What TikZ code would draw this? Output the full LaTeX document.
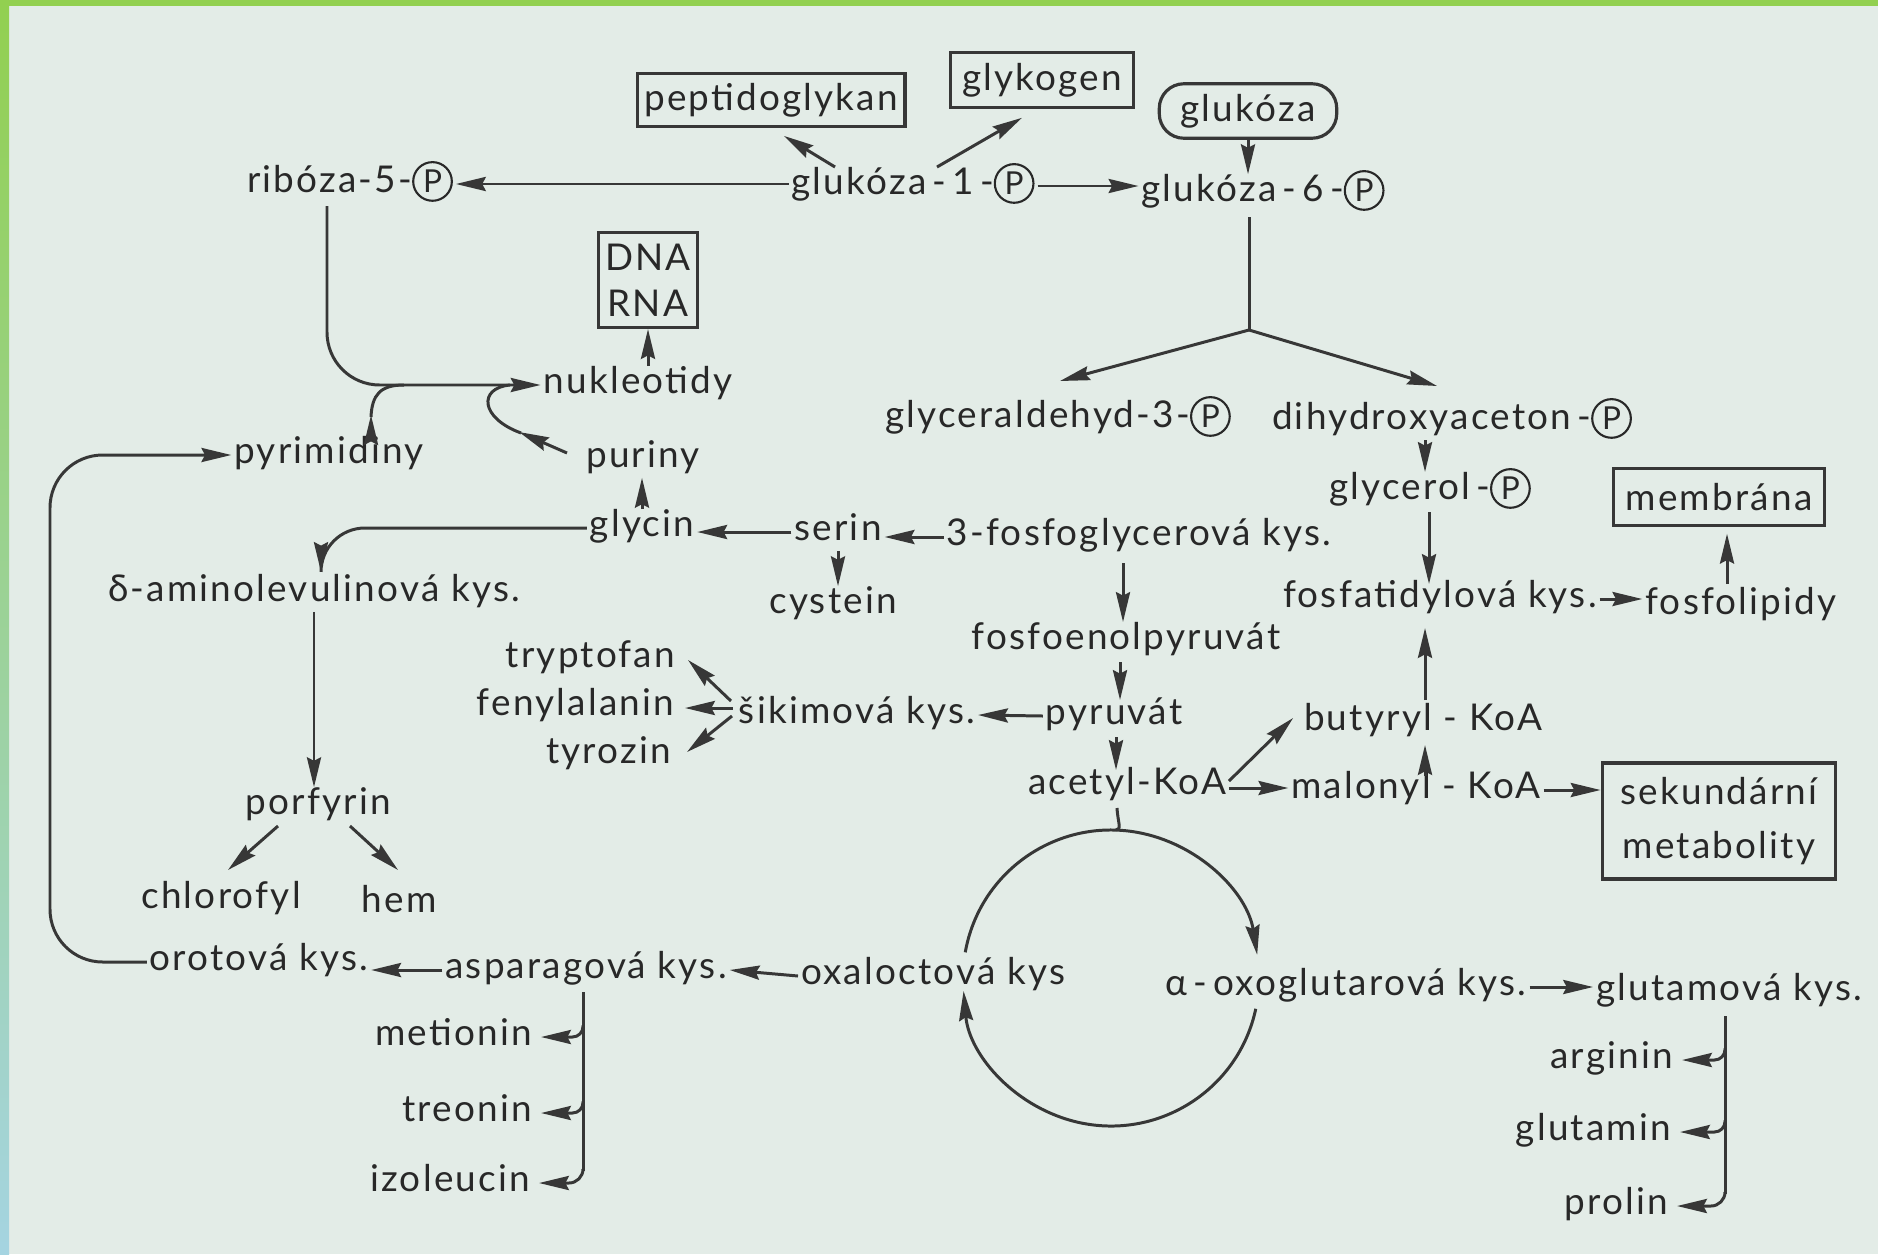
\documentclass[tikz,border=0pt]{standalone}
\usepackage{fontspec}
\setmainfont{Lato}[LetterSpace=6]
\usetikzlibrary{arrows.meta,calc}
\definecolor{bg}{RGB}{227,236,231}
\definecolor{grn}{RGB}{146,208,80}
\definecolor{blu}{RGB}{165,212,225}
\definecolor{lnc}{RGB}{55,55,55}
\definecolor{txt}{RGB}{40,40,40}
\newcommand\lbl{\fontsize{21}{26}\selectfont}
\newcommand\Pc{\tikz[baseline=(pp.base)]\node[circle, draw=txt, line width=1.2pt, inner sep=0pt, text height=, text depth=, minimum size=22pt, text=txt, font=\fontsize{18}{18}\selectfont] (pp) {P};}
\begin{document}
\begin{tikzpicture}[x=0.02cm,y=-0.02cm,
  lab/.style={font=\lbl, text=txt, inner sep=1.5pt, text height=14pt, text depth=4pt},
  boxn/.style={font=\lbl, text=txt, draw=lnc, line width=1.8pt, inner sep=4pt, align=center},
  ln/.style={draw=lnc, line width=1.7pt},
  arr/.style={ln, -{Stealth[length=17pt,width=8pt,inset=2pt]}}]
\useasboundingbox (0,0) rectangle (1878,1254);
\fill[bg] (0,0) rectangle (1878,1254);
\fill[grn] (0,0) rectangle (1878,6);
\shade[top color=grn, middle color=grn, bottom color=blu] (0,0) rectangle (9,1254);

% nodes
\node[boxn, minimum width=151pt, minimum height=30pt] (pep) at (771,100) {peptidoglykan};
\node[boxn, minimum width=104pt, minimum height=31pt] (glyk) at (1042,80) {glykogen};
\node[boxn, rounded corners=14pt, minimum width=101pt, minimum height=31pt] (glc) at (1248,111) {glukóza};
\node[lab] (rib) at (350,184) {ribóza-5-\Pc};
\node[lab] (g1) at (913,186) {glukóza\,-\,1\,-\Pc};
\node[lab] (g6) at (1263,193) {glukóza\,-\,6\,-\Pc};
\node[boxn, minimum width=56pt, minimum height=54pt] (dna) at (648,280) {DNA\\RNA};
\node[lab] (nuk) at (638,385) {nukleotidy};
\node[lab] (pyr) at (329,455) {pyrimidiny};
\node[lab] (pur) at (643,459) {puriny};
\node[lab] (gly) at (642,528) {glycin};
\node[lab] (ser) at (838,532) {serin};
\node[lab] (pga) at (1139,537) {3-fosfoglycerová kys.};
\node[lab] (cys) at (833,605) {cystein};
\node[lab] (ala) at (314,593) {δ-aminolevulinová kys.};
\node[lab] (gap) at (1058,419) {glyceraldehyd-3-\Pc};
\node[lab] (dhap) at (1452,421) {dihydroxyaceton\,-\Pc};
\node[lab] (g3p) at (1430,491) {glycerol\,-\Pc};
\node[boxn, minimum width=120pt, minimum height=32pt] (mem) at (1719,497) {membrána};
\node[lab] (pa) at (1440,599) {fosfatidylová kys.};
\node[lab] (pl) at (1741,606) {fosfolipidy};
\node[lab] (pep2) at (1126,641) {fosfoenolpyruvát};
\node[lab, anchor=east] (trp) at (678,659) {tryptofan};
\node[lab, anchor=east] (phe) at (677,707) {fenylalanin};
\node[lab, anchor=east] (tyr) at (674,755) {tyrozin};
\node[lab] (shik) at (857,715) {šikimová kys.};
\node[lab] (pyrv) at (1114,716) {pyruvát};
\node[lab] (but) at (1423,722) {butyryl - KoA};
\node[lab] (acoa) at (1127,786) {acetyl-KoA};
\node[lab] (mal) at (1416,790) {malonyl - KoA};
\node[boxn, minimum width=133pt, minimum height=66pt] (sek) at (1719,821) {sekundární\\[5pt]metabolity};
\node[lab] (por) at (318,806) {porfyrin};
\node[lab] (chl) at (221,900) {chlorofyl};
\node[lab] (hem) at (399,904) {hem};
\node[lab] (oro) at (259,962) {orotová kys.};
\node[lab] (asp) at (586,970) {asparagová kys.};
\node[lab] (oaa) at (933,976) {oxaloctová kys};
\node[lab] (akg) at (1346,987) {α\,-\,oxoglutarová kys.};
\node[lab] (glu) at (1729,992) {glutamová kys.};
\node[lab, anchor=east] (met) at (535,1037) {metionin};
\node[lab, anchor=east] (thr) at (535,1113) {treonin};
\node[lab, anchor=east] (ile) at (533,1183) {izoleucin};
\node[lab, anchor=east] (arg) at (1676,1060) {arginin};
\node[lab, anchor=east] (gln) at (1674,1132) {glutamin};
\node[lab, anchor=east] (pro) at (1671,1206) {prolin};

% top part
\draw[arr] (g1.west |- rib.east) -- (rib.east);
\draw[arr] ($(g1)+(-78,-19)$) -- ($(pep.south)+(13,8)$);
\draw[arr] ($(g1)+(24,-19)$) -- ($(glyk.south)+(-20,9)$);
\draw[arr] (g1.east) -- (g1.east -| g6.west);
\draw[arr] (glc.south) -- (glc.south |- g6.north);
\coordinate (split) at ($(g6)+(-14,137)$);
\draw[ln] ($(g6)+(-14,24)$) -- (split);
\draw[arr] (split) -- ($(gap)+(2,-38)$);
\draw[arr] (split) -- ($(dhap)+(-15,-35)$);

% nucleotides
\draw[arr, rounded corners=30] ($(rib)+(-23,22)$) |- (nuk.west);
\draw[arr] ($(pyr)+(42,-17)$) -- ($(pyr)+(42,-40)$);
\draw[ln] ($(pyr)+(42,-38)$) .. controls ($(pyr)+(43,-60)$) and ($(pyr)+(51,-70)$) .. ($(pyr)+(75,-70)$);
\draw[arr] ($(pur)+(-76,-6)$) -- ($(pur)+(-124,-27)$);
\draw[ln] ($(pur)+(-122,-26)$) .. controls ($(pur)+(-163,-41)$) and ($(pur)+(-165,-71)$) .. ($(pur)+(-133,-74)$);
\draw[arr] (nuk.north -| dna.south) -- (dna.south);
\draw[arr] (gly.north) -- (gly.north |- pur.south);

% amino acids, porphyrins
\draw[arr] (ser.west) -- (ser.west -| gly.east);
\draw[arr] (pga.west) -- (pga.west -| ser.east);
\draw[arr] (ser.south) -- (ser.south |- cys.north);
\draw[arr, rounded corners=25] (gly.west) -| ($(ala)+(7,-21)$);
\draw[arr] (ala.south) -- (ala.south |- por.north);
\draw[arr] ($(por)+(-40,20)$) -- ($(chl)+(7,-30)$);
\draw[arr] ($(por)+(32,20)$) -- ($(hem)+(-1,-34)$);

% glycolysis
\draw[arr] ($(pga)+(-16,26)$) -- ($(pep2)+(-3,-19)$);
\draw[arr] ($(pep2)+(-6,21)$) -- ($(pyrv)+(6,-16)$);
\draw[arr] (pyrv.west) -- (shik.east);
\draw[arr] ($(shik.west)+(-5,-14)$) -- ($(trp.east)+(10,1)$);
\draw[arr] ($(shik.west)+(-3,-7)$) -- ($(phe.east)+(8,1)$);
\draw[arr] ($(shik.west)+(-4,1)$) -- ($(tyr.east)+(13,-3)$);
\draw[arr] ($(pyrv)+(2,21)$) -- ($(acoa)+(-11,-16)$);

% lipids
\draw[arr] ($(acoa.east)+(0,-5)$) -- ($(but.west)+(-8,-4)$);
\draw[arr] ($(acoa.east)+(0,2)$) -- ($(acoa.east -| mal.west)+(0,2)$);
\draw[arr] ($(mal)+(9,-14)$) -- ($(but)+(2,23)$);
\draw[arr] ($(but)+(2,-22)$) -- ($(pa)+(-15,29)$);
\draw[arr] ($(g3p)+(-1,21)$) -- ($(pa)+(-11,-15)$);
\draw[arr] ($(dhap)+(-27,19)$) -- ($(g3p)+(-5,-19)$);
\draw[arr] (pa.east) -- (pa.east -| pl.west);
\draw[arr] ($(pl)+(-14,-22)$) -- ($(mem.south)+(8,7)$);
\draw[arr] (mal.east) -- (sek.west |- mal.east);

% cycle
\coordinate (cyc) at (1111,978);
\draw[ln] ($(acoa)+(-10,22)$) .. controls ($(acoa)+(-9,38)$) and ($(acoa)+(-5,43)$) .. ($(cyc)+(5,-148)$);
\draw[arr] ($(cyc)+(190:148)$) arc[start angle=190, end angle=351, radius=148];
\draw[arr] ($(cyc)+(12:148)$) arc[start angle=12, end angle=175, radius=148];

% bottom left
\draw[arr] (oaa.west) -- (asp.east);
\draw[arr] (asp.west) -- (asp.west -| oro.east);
\coordinate (lft) at (50,700);
\draw[arr, rounded corners=30] (oro.west) -| (lft) |- (pyr.west);
\draw[ln] ($(asp)+(-3,22)$) -- ($(ile.east)+(50,-12)$);
\draw[arr, rounded corners=6] ($(met.east)+(48,-12)$) |- ($(met.east)+(6,0)$);
\draw[arr, rounded corners=6] ($(thr.east)+(48,-12)$) |- ($(thr.east)+(6,0)$);
\draw[arr, rounded corners=8] ($(ile.east)+(50,-14)$) |- ($(ile.east)+(6,0)$);

% bottom right
\draw[arr] (akg.east) -- (akg.east -| glu.west);
\draw[ln] ($(glu)+(-4,24)$) -- ($(pro.east)+(54,-12)$);
\draw[arr, rounded corners=6] ($(arg.east)+(49,-12)$) |- ($(arg.east)+(6,0)$);
\draw[arr, rounded corners=6] ($(gln.east)+(51,-12)$) |- ($(gln.east)+(6,0)$);
\draw[arr, rounded corners=8] ($(pro.east)+(54,-14)$) |- ($(pro.east)+(6,0)$);
\end{tikzpicture}
\end{document}
